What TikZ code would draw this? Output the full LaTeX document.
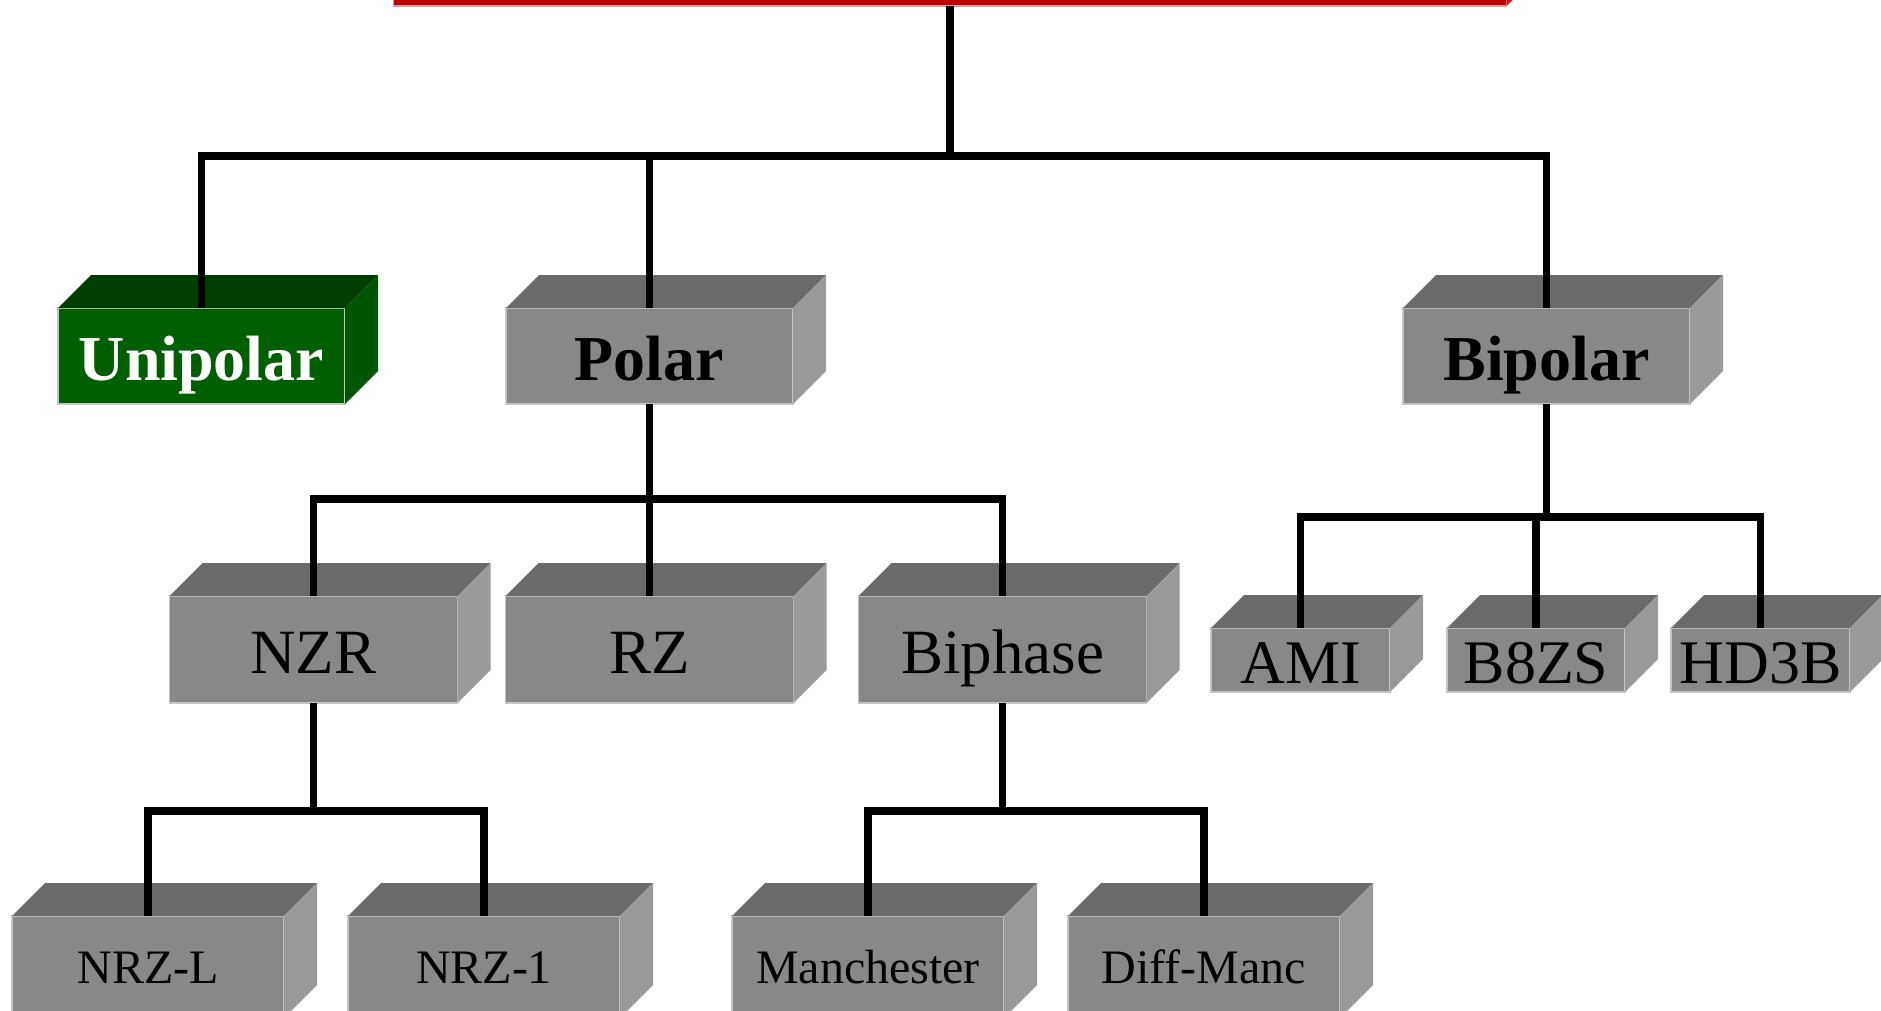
\documentclass[tikz,border=0pt]{standalone}
\usepackage{fontspec}
\setmainfont{Liberation Serif}

% face colours of the boxes: k = grey, g = green, r = red
\definecolor{kfront}{RGB}{136,136,136}
\definecolor{ktop}{RGB}{106,106,106}
\definecolor{kside}{RGB}{154,154,154}
\definecolor{gfront}{RGB}{0,96,0}
\definecolor{gtop}{RGB}{0,62,0}
\definecolor{gside}{RGB}{0,86,0}
\definecolor{rfront}{RGB}{192,0,0}
\definecolor{rtop}{RGB}{150,0,0}
\definecolor{rside}{RGB}{225,20,20}
\definecolor{faceedge}{RGB}{196,196,196}
\definecolor{redge}{RGB}{240,150,150}

\tikzset{
  wire/.style={line width=7.5pt, line join=miter, draw=black},
  cubeface/.style={rectangle, inner sep=0pt, outer sep=0pt, draw=faceedge, line width=1.2pt},
  lvlone/.style={font=\fontsize{64}{70}\selectfont\bfseries, text height=48pt, text depth=0pt},
  lvltwo/.style={font=\fontsize{63}{70}\selectfont, text height=47pt, text depth=0pt},
  lvlsmall/.style={font=\fontsize{62}{70}\selectfont, text height=46pt, text depth=0pt},
  lvlleaf/.style={font=\fontsize{48}{56}\selectfont, text height=32pt, text depth=0pt},
}

% a 3-D box: front face is the named node, top and side faces drawn beside it
% #1 name, #2 x, #3 y, #4 width, #5 height, #6 palette, #7 text style, #8 label
\newcommand\cubenode[8]{%
  \node[cubeface, #7, fill=#6front, minimum width=#4pt, minimum height=#5pt] (#1) at (#2,#3) {#8};
  \fill[#6top] (#1.north west) -- ++(33pt,33pt) -- ([shift={(33pt,33pt)}]#1.north east)
     -- (#1.north east) -- cycle;
  \fill[#6side] (#1.north east) -- ++(33pt,33pt) -- ([shift={(33pt,33pt)}]#1.south east)
     -- (#1.south east) -- cycle;
}

\begin{document}
\begin{tikzpicture}[x=1pt, y=-1pt]
  \useasboundingbox (0,0) rectangle (1881,1010);
  \fill[white] (0,0) rectangle (1881,1010);
  \clip (0,0) rectangle (1881,1010);

  % root of the tree
  \cubenode{root}{950}{-44}{1113}{100}{r}{draw=redge}{}

  % first level
  \cubenode{unipolar}{201.5}{356}{287}{96}{g}{lvlone, text=white}{Unipolar}
  \cubenode{polar}{649.5}{356}{287}{96}{k}{lvlone}{Polar}
  \cubenode{bipolar}{1546.5}{356}{287}{96}{k}{lvlone}{Bipolar}

  % polar family
  \cubenode{nzr}{313.5}{649.5}{288}{107}{k}{lvltwo}{NZR}
  \cubenode{rz}{649.5}{649.5}{288}{107}{k}{lvltwo}{RZ}
  \cubenode{biphase}{1002.5}{649.5}{288}{107}{k}{lvltwo}{Biphase}

  % bipolar family
  \cubenode{ami}{1300.5}{660}{179}{64}{k}{lvlsmall}{AMI}
  \cubenode{b8zs}{1536}{660}{178}{64}{k}{lvlsmall}{B8ZS}
  \cubenode{hd3b}{1760.5}{660}{179}{64}{k}{lvlsmall}{HD3B}

  % leaves
  \cubenode{nrzl}{148}{967}{272}{102}{k}{lvlleaf}{NRZ-L}
  \cubenode{nrzone}{484}{967}{272}{102}{k}{lvlleaf}{NRZ-1}
  \cubenode{manch}{868}{967}{272}{102}{k}{lvlleaf}{Manchester}
  \cubenode{diffmanc}{1204}{967}{272}{102}{k}{lvlleaf}{Diff-Manc}

  % heights of the horizontal busses
  \coordinate (busroot) at (0,156);
  \coordinate (buspolar) at (0,499);
  \coordinate (busbipolar) at (0,517);
  \coordinate (buslow) at (0,811);

  % connectors
  \foreach \c in {unipolar,polar,bipolar}
    \draw[wire] (root.south) -- (root.south |- busroot) -| (\c.north);
  \foreach \c in {nzr,rz,biphase}
    \draw[wire] (polar.south) -- (polar.south |- buspolar) -| (\c.north);
  \foreach \c in {ami,b8zs,hd3b}
    \draw[wire] (bipolar.south) -- (bipolar.south |- busbipolar) -| (\c.north);
  \foreach \c in {nrzl,nrzone}
    \draw[wire] (nzr.south) -- (nzr.south |- buslow) -| (\c.north);
  \foreach \c in {manch,diffmanc}
    \draw[wire] (biphase.south) -- (biphase.south |- buslow) -| (\c.north);
\end{tikzpicture}
\end{document}
